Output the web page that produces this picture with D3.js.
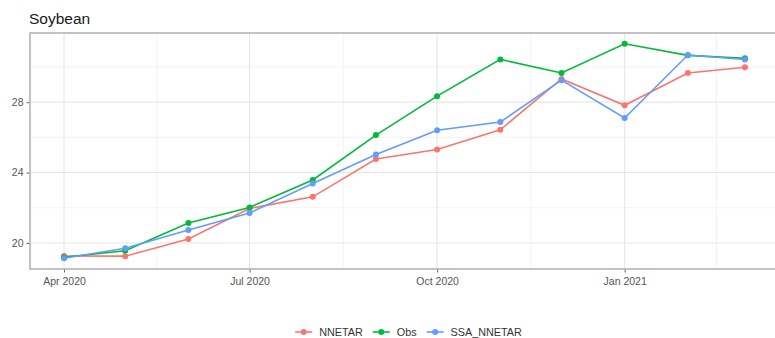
<!DOCTYPE html>
<html>
<head>
<meta charset="utf-8">
<script src="https://cdn.jsdelivr.net/npm/d3@7"></script>
<style>
  html, body { margin: 0; padding: 0; background: #fff; }
  svg { display: block; font-family: "Liberation Sans", Arial, sans-serif; }
</style>
</head>
<body>
<svg id="chart" width="775" height="338"></svg>
<script>
// Monthly soybean price: observed values and two model forecasts
const months = ["2020-04-01","2020-05-01","2020-06-01","2020-07-01","2020-08-01","2020-09-01",
                "2020-10-01","2020-11-01","2020-12-01","2021-01-01","2021-02-01","2021-03-01"];
const nnetar    = [19.26, 19.25, 20.23, 21.96, 22.62, 24.77, 25.31, 26.43, 29.32, 27.82, 29.66, 29.98];
const obs       = [19.19, 19.56, 21.13, 22.02, 23.58, 26.13, 28.34, 30.43, 29.66, 31.32, 30.66, 30.49];
const ssaNnetar = [19.13, 19.70, 20.74, 21.70, 23.38, 25.02, 26.40, 26.87, 29.25, 27.10, 30.68, 30.42];
const seriesNames = ["NNETAR", "Obs", "SSA_NNETAR"];
const yTicks = [20, 24, 28, 32];
const yMinorTicks = [18, 22, 26, 30];
const titleText = "Soybean";

const colors = ["#F8766D", "#00BA38", "#619CFF"];
const parse = d3.timeParse("%Y-%m-%d");
const dates = months.map(parse);
const series = [nnetar, obs, ssaNnetar].map((vals, i) => ({
  name: seriesNames[i], color: colors[i],
  points: vals.map((v, j) => ({ date: dates[j], value: v }))
}));

const svg = d3.select("#chart");
const panel = { left: 30, top: 33, right: 779, bottom: 269 };

// 5% padding on both axes
const tExt = d3.extent(dates);
const tPad = (tExt[1] - tExt[0]) * 0.05;
const x = d3.scaleTime()
  .domain([new Date(+tExt[0] - tPad), new Date(+tExt[1] + tPad)])
  .range([panel.left, panel.right]);

const allVals = nnetar.concat(obs, ssaNnetar);
const vExt = d3.extent(allVals);
const vPad = (vExt[1] - vExt[0]) * 0.05;
const y = d3.scaleLinear()
  .domain([vExt[0] - vPad, vExt[1] + vPad])
  .range([panel.bottom, panel.top]);

const [yLo, yHi] = y.domain();
const [xLo, xHi] = x.domain();

// Quarterly date breaks and their midpoints
const majorDates = d3.timeMonth.every(3).range(xLo, xHi);
const extended = d3.timeMonth.every(3).range(d3.timeMonth.offset(xLo, -3), d3.timeMonth.offset(xHi, 3));
const minorDates = [];
for (let i = 0; i < extended.length - 1; i++) {
  const m = new Date((+extended[i] + +extended[i + 1]) / 2);
  if (m >= xLo && m <= xHi) minorDates.push(m);
}

const grid = svg.append("g");
// minor grid
grid.selectAll(".ymin").data(yMinorTicks.filter(v => v >= yLo && v <= yHi)).join("line")
  .attr("x1", panel.left).attr("x2", panel.right)
  .attr("y1", d => y(d)).attr("y2", d => y(d))
  .attr("stroke", "#f0f0f0").attr("stroke-width", 0.8);
grid.selectAll(".xmin").data(minorDates).join("line")
  .attr("x1", d => x(d)).attr("x2", d => x(d))
  .attr("y1", panel.top).attr("y2", panel.bottom)
  .attr("stroke", "#f0f0f0").attr("stroke-width", 0.8);
// major grid
const yMajor = yTicks.filter(v => v >= yLo && v <= yHi);
grid.selectAll(".ymaj").data(yMajor).join("line")
  .attr("x1", panel.left).attr("x2", panel.right)
  .attr("y1", d => y(d)).attr("y2", d => y(d))
  .attr("stroke", "#e6e6e6").attr("stroke-width", 1.1);
grid.selectAll(".xmaj").data(majorDates).join("line")
  .attr("x1", d => x(d)).attr("x2", d => x(d))
  .attr("y1", panel.top).attr("y2", panel.bottom)
  .attr("stroke", "#e6e6e6").attr("stroke-width", 1.1);

// axes
const fmt = d3.timeFormat("%b %Y");
const xAxis = svg.append("g")
  .attr("transform", `translate(0,${panel.bottom})`)
  .call(d3.axisBottom(x).tickValues(majorDates).tickFormat(fmt).tickSize(3.5).tickPadding(3));
const yAxis = svg.append("g")
  .attr("transform", `translate(${panel.left},0)`)
  .call(d3.axisLeft(y).tickValues(yMajor).tickSize(3.5).tickPadding(3));
[xAxis, yAxis].forEach(g => {
  g.select(".domain").remove();
  g.selectAll(".tick line").attr("stroke", "#666").attr("stroke-width", 1);
  g.selectAll(".tick text").attr("fill", "#555").attr("font-size", "10.5px")
    .attr("font-family", "Liberation Sans, Arial, sans-serif");
});
xAxis.selectAll(".tick text").attr("dy", "0.9em");

// panel border
svg.append("rect")
  .attr("x", panel.left).attr("y", panel.top)
  .attr("width", panel.right - panel.left).attr("height", panel.bottom - panel.top)
  .attr("fill", "none").attr("stroke", "#b5b5b5").attr("stroke-width", 1.6);

// all lines first, then all points on top
const line = d3.line().x(d => x(d.date)).y(d => y(d.value));
const lineLayer = svg.append("g");
const pointLayer = svg.append("g");
series.forEach(s => {
  lineLayer.append("path").datum(s.points)
    .attr("d", line).attr("fill", "none")
    .attr("stroke", s.color).attr("stroke-width", 1.6);
  pointLayer.selectAll(null).data(s.points).join("circle")
    .attr("cx", d => x(d.date)).attr("cy", d => y(d.value))
    .attr("r", 3).attr("fill", s.color);
});

// title
svg.append("text")
  .attr("x", 29).attr("y", 24)
  .attr("font-size", "15.5px").attr("fill", "#1a1a1a")
  .text(titleText);

// legend at the bottom, centred
const legend = svg.append("g");
const keyW = 17, gapText = 7, gapItem = 10, ly = 332;
let cursor = 0;
series.forEach(s => {
  const g = legend.append("g").attr("transform", `translate(${cursor},0)`);
  g.append("line").attr("x1", 0).attr("x2", keyW).attr("y1", ly).attr("y2", ly)
    .attr("stroke", s.color).attr("stroke-width", 1.6);
  g.append("circle").attr("cx", keyW / 2).attr("cy", ly).attr("r", 3).attr("fill", s.color);
  const t = g.append("text").attr("x", keyW + gapText).attr("y", ly).attr("dy", "0.36em")
    .attr("font-size", "10.8px").attr("fill", "#333").text(s.name);
  const w = t.node().getComputedTextLength();
  cursor += keyW + gapText + w + gapItem;
});
const totalW = cursor - gapItem;
legend.attr("transform", `translate(${408.5 - totalW / 2},0)`);
</script>
</body>
</html>
